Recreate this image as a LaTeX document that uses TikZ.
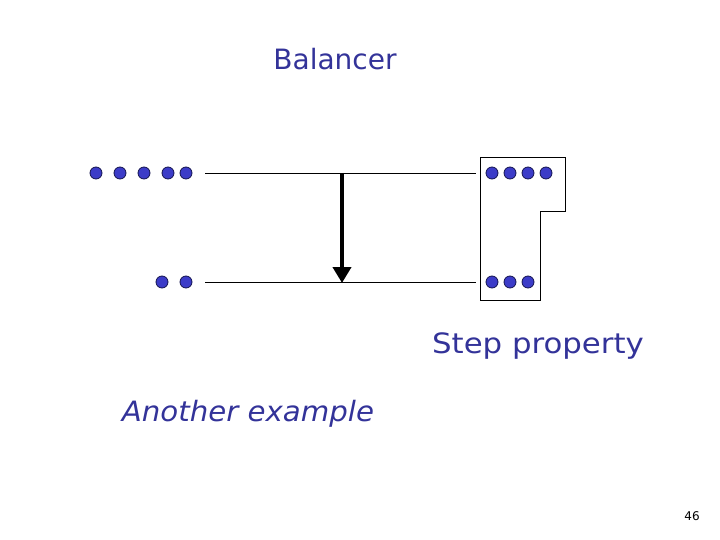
\documentclass[tikz,border=0pt]{standalone}
\usepackage{fontspec}
\setmainfont{DejaVu Sans}
\usetikzlibrary{arrows.meta}
\definecolor{txtblue}{RGB}{51,51,153}
\definecolor{dotfill}{RGB}{60,60,200}
\definecolor{dotline}{RGB}{20,20,80}
\tikzset{
  dot/.style={circle,fill=dotfill,draw=dotline,line width=0.8pt,minimum size=12pt,inner sep=0pt},
  wire/.style={draw=black,line width=0.8pt},
  title/.style={text=txtblue,font=\fontsize{28}{32}\selectfont,inner sep=0pt},
}
\begin{document}
\begin{tikzpicture}[x=1pt,y=-1pt]
\useasboundingbox (0,0) rectangle (720,540);
\node[title] (balancer) at (335,59) {Balancer};
\node[title] (step) at (538,346) {\scalebox{1.1}[1]{Step property}};
\node[title,font=\fontsize{28}{32}\selectfont\itshape] (another) at (248,414) {\scalebox{1.045}[1]{Another example}};
\node[font=\fontsize{12}{14}\selectfont,inner sep=0pt] (pagenum) at (692,516) {46};
% left dots
\foreach \x [count=\i] in {96,120,144,168,186} \node[dot] (lt\i) at (\x,173) {};
\foreach \x [count=\i] in {162,186} \node[dot] (lb\i) at (\x,282) {};
% right dots
\foreach \x [count=\i] in {492,510,528,546} \node[dot] (rt\i) at (\x,173) {};
\foreach \x [count=\i] in {492,510,528} \node[dot] (rb\i) at (\x,282) {};
% wires
\coordinate (wtl) at (205,173);
\coordinate (wtr) at (476,173);
\coordinate (wbl) at (205,282);
\coordinate (wbr) at (476,282);
\draw[wire] (wtl) -- (wtr);
\draw[wire] (wbl) -- (wbr);
% balancer arrow
\coordinate (atop) at (342,173);
\coordinate (abot) at (342,283);
\draw[line width=4pt,-{Triangle[width=18pt,length=16pt]}] (atop) -- (abot);
% box
\draw[line width=0.8pt] (480,157) -- (565,157) -- (565,211) -- (540,211) -- (540,300) -- (480,300) -- cycle;
\end{tikzpicture}
\end{document}
